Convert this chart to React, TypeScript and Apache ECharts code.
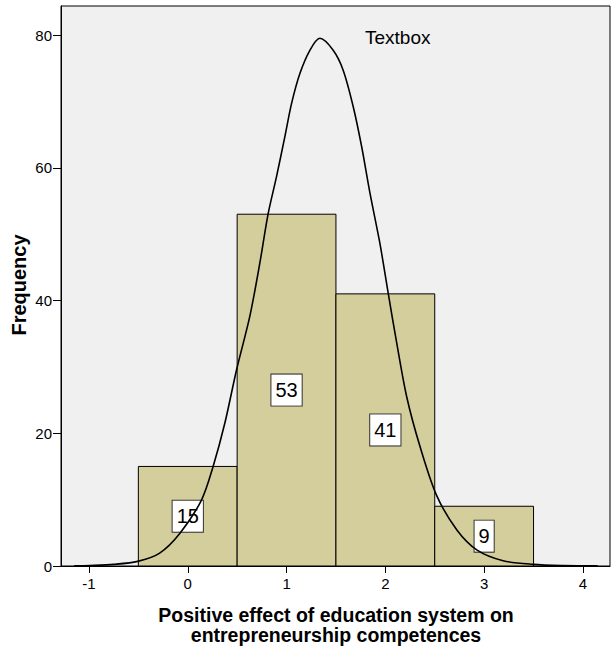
import React, { useEffect, useRef } from "react";
import * as echarts from "echarts";

const binStart = [-0.5, 0.5, 1.5, 2.5];
const binEnd = [0.5, 1.5, 2.5, 3.5];
const frequencies = [15, 53, 41, 9];

const xTicks = [-1, 0, 1, 2, 3, 4];
const yTicks = [0, 20, 40, 60, 80];

// normal curve, points
const curveX = [-1.15, -0.99, -0.75, -0.507, -0.284, -0.081, 0.139, 0.256, 0.375, 0.493, 0.628, 0.729, 0.814, 0.899, 0.983, 1.051, 1.135, 1.236, 1.337, 1.472, 1.573, 1.675, 1.76, 1.844, 1.945, 2.029, 2.115, 2.216, 2.351, 2.52, 2.726, 2.929, 3.192, 3.495, 3.8, 4.15];
const curveY = [0.02, 0.08, 0.25, 0.7, 1.95, 4.9, 9.94, 14.96, 21.5, 29.5, 37.6, 45.6, 53.1, 58.7, 64.7, 69.7, 74.2, 77.7, 79.5, 77.7, 74.7, 69.2, 63.2, 56.2, 48.6, 41.1, 33.6, 25.5, 18.0, 10.6, 5.4, 2.4, 0.8, 0.25, 0.07, 0.02];

const xTitleLines = ["Positive effect of education system on", "entrepreneurship competences"];
const yTitle = "Frequency";
const textboxText = "Textbox";

const FONT = "'Liberation Sans', Arial, Helvetica, sans-serif";

export default function App() {
  const ref = useRef<HTMLDivElement>(null);
  useEffect(() => {
    document.body.style.margin = "0";
    if (!ref.current) return;
    const chart = echarts.init(ref.current, null, { renderer: "svg" });
    const barData = frequencies.map((f, i) => [binStart[i], binEnd[i], f]);
    const curveData = curveX.map((x, i) => [x, curveY[i]]);
    chart.setOption({
      animation: false,
      grid: {
        left: 61,
        top: 6,
        right: 2,
        bottom: 84,
        show: true,
        backgroundColor: "#f0f0f0",
        borderColor: "#000",
        borderWidth: 1,
      },
      xAxis: {
        type: "value",
        min: -1.283,
        max: 4.274,
        splitLine: { show: false },
        axisLine: { show: true, onZero: false, lineStyle: { color: "#000", width: 1 } },
        axisTick: { show: true, length: 7, customValues: xTicks, lineStyle: { color: "#000", width: 1 } },
        axisLabel: { customValues: xTicks, margin: 10, fontSize: 15, color: "#000", fontFamily: FONT },
      },
      yAxis: {
        type: "value",
        min: 0,
        max: 84.37,
        splitLine: { show: false },
        axisLine: { show: true, onZero: false, lineStyle: { color: "#000", width: 1 } },
        axisTick: { show: true, length: 8, customValues: yTicks, lineStyle: { color: "#000", width: 1 } },
        axisLabel: { customValues: yTicks, margin: 9, fontSize: 15, color: "#000", fontFamily: FONT },
      },
      series: [
        {
          type: "custom",
          data: barData,
          encode: { x: [0, 1], y: 2 },
          z: 2,
          renderItem: (params: any, api: any) => {
            const lo = api.value(0);
            const hi = api.value(1);
            const v = api.value(2);
            const p0 = api.coord([lo, v]);
            const p1 = api.coord([hi, 0]);
            const mid = api.coord([(lo + hi) / 2, v / 2]);
            return {
              type: "group",
              children: [
                {
                  type: "rect",
                  shape: { x: p0[0], y: p0[1], width: p1[0] - p0[0], height: p1[1] - p0[1] },
                  style: { fill: "#d3ce9b", stroke: "#000", lineWidth: 1 },
                },
                {
                  type: "text",
                  x: mid[0],
                  y: mid[1],
                  style: {
                    text: String(v),
                    align: "center",
                    verticalAlign: "middle",
                    fontSize: 20,
                    fontFamily: FONT,
                    fill: "#000",
                    backgroundColor: "#fff",
                    borderColor: "#333",
                    borderWidth: 1,
                    padding: [6, 4, 5, 4],
                  },
                },
              ],
            };
          },
        },
        {
          type: "line",
          data: curveData,
          smooth: 0.3,
          showSymbol: false,
          z: 5,
          lineStyle: { color: "#000", width: 1.6 },
        },
      ],
      graphic: [
        {
          type: "text",
          left: 365,
          top: 28,
          style: { text: textboxText, fontSize: 19, fontFamily: FONT, fill: "#000" },
        },
        {
          type: "text",
          x: 19,
          y: 285,
          rotation: Math.PI / 2,
          style: {
            text: yTitle,
            align: "center",
            verticalAlign: "middle",
            fontSize: 20,
            fontWeight: "bold",
            fontFamily: FONT,
            fill: "#000",
          },
        },
        {
          type: "text",
          x: 336,
          y: 624.5,
          style: {
            text: xTitleLines.join("\n"),
            align: "center",
            verticalAlign: "middle",
            fontSize: 19.5,
            lineHeight: 20,
            fontWeight: "bold",
            fontFamily: FONT,
            fill: "#000",
          },
        },
      ],
    });
    return () => chart.dispose();
  }, []);
  return <div ref={ref} style={{ width: 612, height: 650 }} />;
}
